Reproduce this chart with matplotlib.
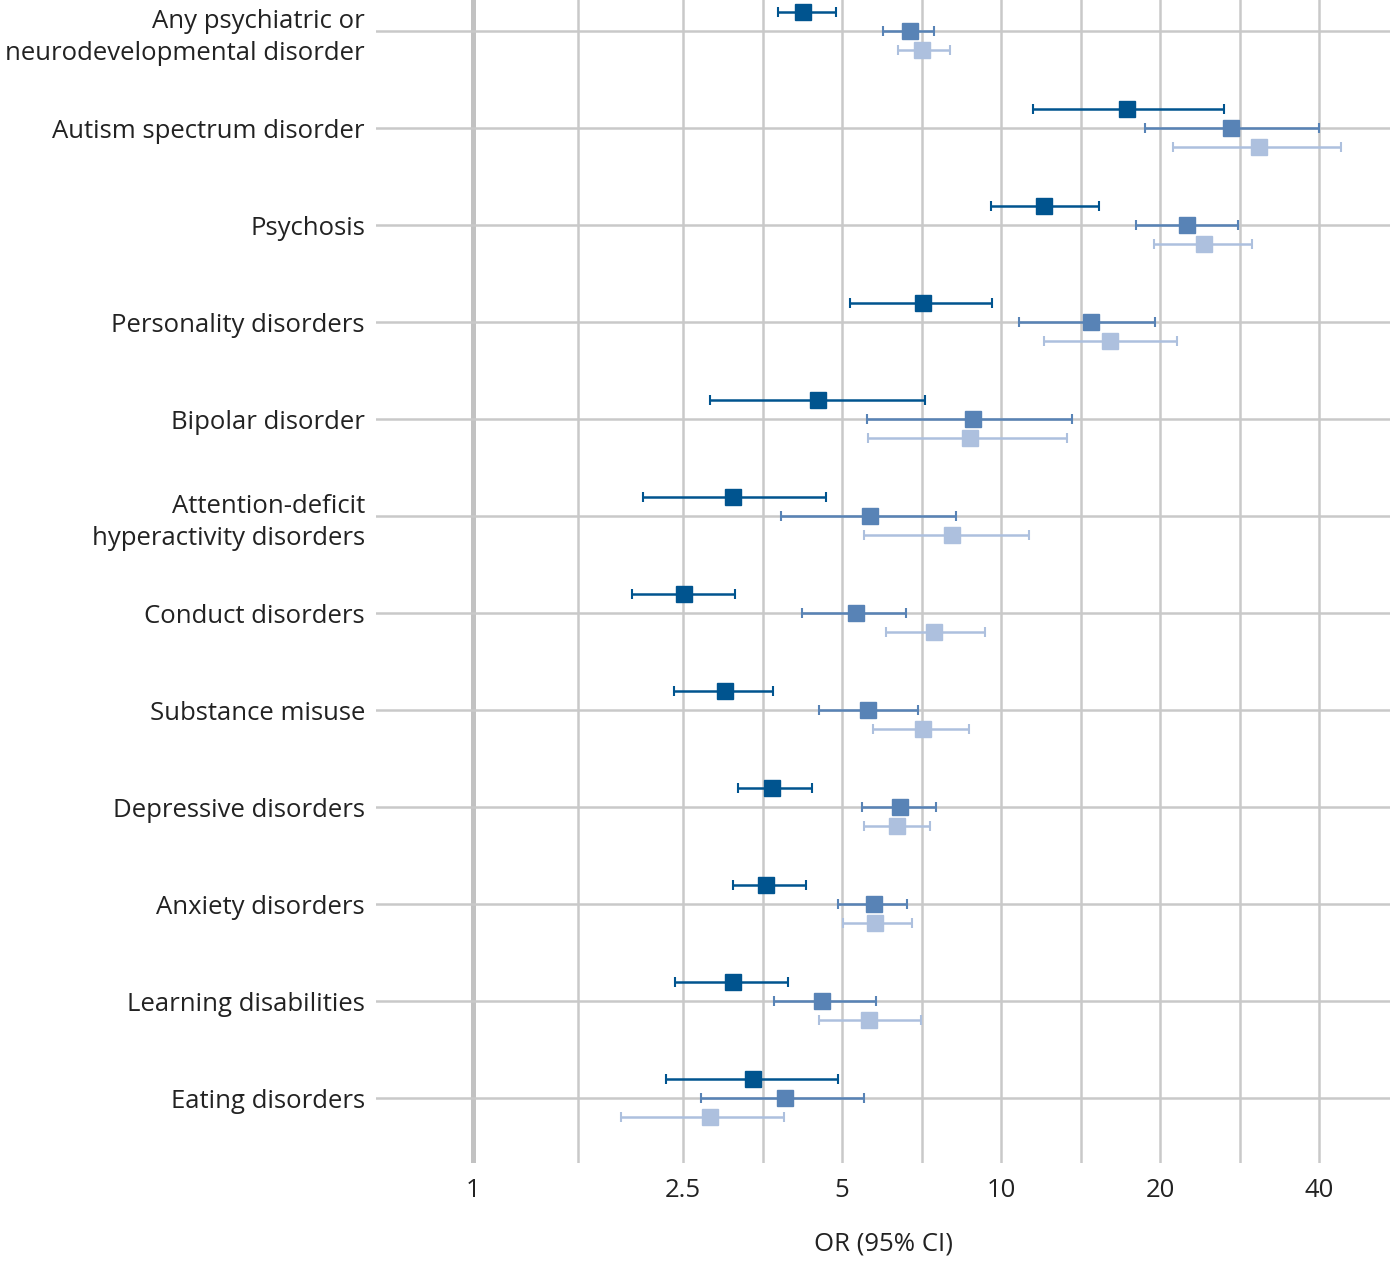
import matplotlib
matplotlib.use("Agg")
import matplotlib.pyplot as plt
import numpy as np


CATEGORIES = [
    "Any psychiatric or\nneurodevelopmental disorder",
    "Autism spectrum disorder",
    "Psychosis",
    "Personality disorders",
    "Bipolar disorder",
    "Attention-deficit\nhyperactivity disorders",
    "Conduct disorders",
    "Substance misuse",
    "Depressive disorders",
    "Anxiety disorders",
    "Learning disabilities",
    "Eating disorders",
]

# three series per category (dark / medium / light)
OR_DARK = [4.21, 17.3, 12.05, 7.11, 4.50, 3.11, 2.51, 3.00, 3.68, 3.59, 3.11, 3.39]
LO_DARK = [3.78, 11.5, 9.57, 5.17, 2.81, 2.10, 2.00, 2.40, 3.17, 3.11, 2.41, 2.32]
HI_DARK = [4.87, 26.4, 15.3, 9.61, 7.17, 4.66, 3.13, 3.70, 4.38, 4.27, 3.95, 4.91]

OR_MED = [6.72, 27.2, 22.5, 14.8, 8.83, 5.65, 5.31, 5.60, 6.43, 5.74, 4.58, 3.90]
LO_MED = [5.97, 18.7, 18.0, 10.8, 5.57, 3.83, 4.20, 4.52, 5.45, 4.91, 3.71, 2.70]
HI_MED = [7.46, 40.0, 28.1, 19.6, 13.6, 8.21, 6.60, 6.96, 7.53, 6.63, 5.79, 5.50]

OR_LIGHT = [7.08, 30.8, 24.2, 16.1, 8.73, 8.07, 7.46, 7.11, 6.35, 5.77, 5.62, 2.81]
LO_LIGHT = [6.38, 21.2, 19.5, 12.05, 5.60, 5.50, 6.05, 5.72, 5.50, 5.02, 4.52, 1.91]
HI_LIGHT = [8.00, 44.0, 29.8, 21.5, 13.3, 11.3, 9.32, 8.69, 7.33, 6.78, 7.05, 3.88]

TICKS = [1, 2.5, 5, 10, 20, 40]
TICK_LABELS = ["1", "2.5", "5", "10", "20", "40"]

plt.rcParams["font.family"] = ["Open Sans", "DejaVu Sans"]

fig = plt.figure(figsize=(13.9, 12.61), dpi=100)
ax = fig.add_axes([376 / 1390, 98 / 1261, 1 - 376 / 1390, 1163 / 1261])

grid_color = "#c9c9c9"
y = np.arange(len(CATEGORIES))

# vertical grid: labelled ticks plus geometric midpoints
minor = [np.sqrt(a * b) for a, b in zip(TICKS[:-1], TICKS[1:])]
for v in TICKS[1:] + minor:
    ax.axvline(v, color=grid_color, lw=1.8, zorder=0)
ax.axvline(1, color="#c2c2c2", lw=3.6, zorder=0)
for yy in y:
    ax.axhline(yy, color=grid_color, lw=1.8, zorder=0)

series = [
    (OR_DARK, LO_DARK, HI_DARK, -0.2, "#00548f"),
    (OR_MED, LO_MED, HI_MED, 0.0, "#5883b6"),
    (OR_LIGHT, LO_LIGHT, HI_LIGHT, 0.2, "#adc0de"),
]
for vals, lo, hi, off, col in series:
    vals = np.array(vals)
    err = [vals - np.array(lo), np.array(hi) - vals]
    ax.errorbar(vals, y + off, xerr=err, fmt="s", color=col, ecolor=col,
                markersize=11, elinewidth=1.8, capsize=3.5, capthick=1.5,
                zorder=3)

ax.set_xscale("log")
ax.set_xlim(0.655, 54.5)
ax.set_ylim(11.67, -0.32)
ax.set_xticks(TICKS)
ax.set_xticklabels(TICK_LABELS)
ax.minorticks_off()
ax.set_yticks(y)
ax.set_yticklabels(CATEGORIES, linespacing=1.35)
ax.tick_params(axis="both", length=0, colors="#222222", labelsize=18.5)
ax.tick_params(axis="y", pad=8)
ax.tick_params(axis="x", pad=11)
for s in ax.spines.values():
    s.set_visible(False)

ax.set_xlabel("OR (95% CI)", fontsize=18.5, color="#222222", labelpad=20)

fig.savefig("out.png", dpi=100)
